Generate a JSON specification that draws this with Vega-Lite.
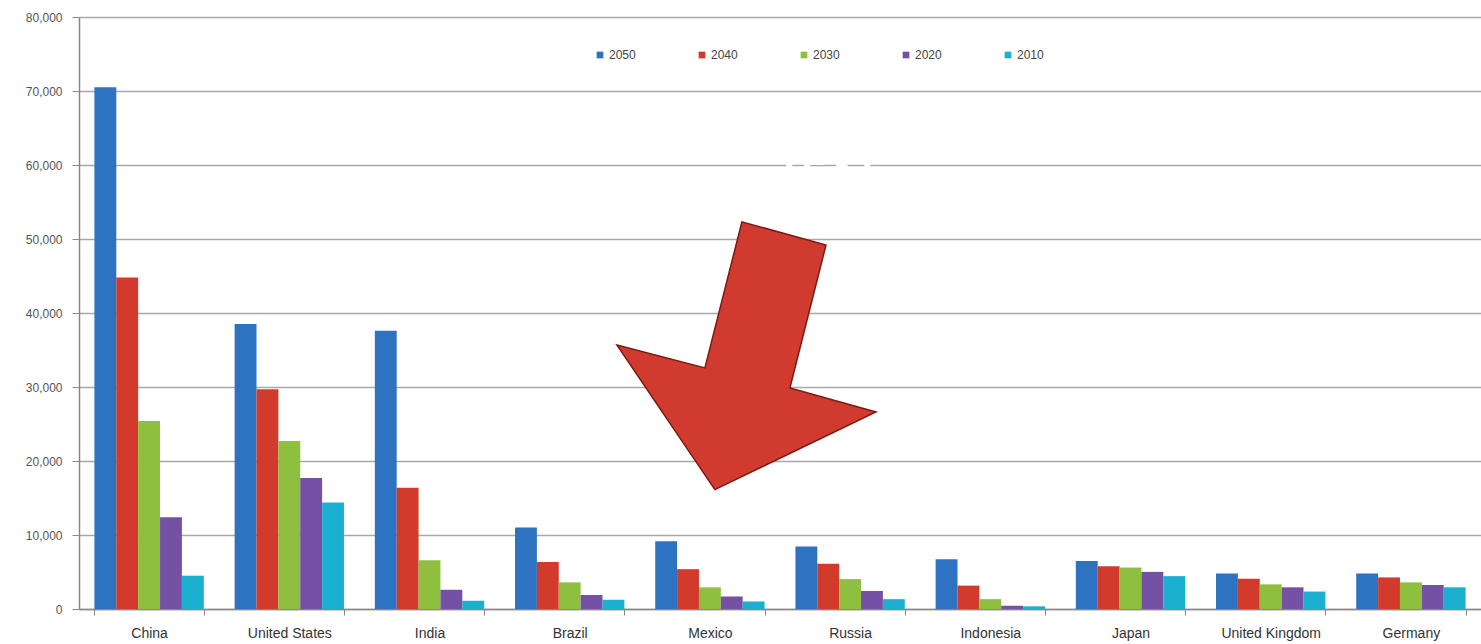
{
  "$schema": "https://vega.github.io/schema/vega-lite/v6.json",
  "width": 1402,
  "height": 592,
  "autosize": {"type": "none"},
  "padding": {"left": 79, "top": 17, "right": 0, "bottom": 35},
  "background": "white",
  "config": {
    "view": {"stroke": null},
    "font": "Liberation Sans"
  },
  "datasets": {
    "main": [
      {"country": "China", "year": "2050", "value": 70500},
      {"country": "China", "year": "2040", "value": 44800},
      {"country": "China", "year": "2030", "value": 25400},
      {"country": "China", "year": "2020", "value": 12400},
      {"country": "China", "year": "2010", "value": 4500},
      {"country": "United States", "year": "2050", "value": 38500},
      {"country": "United States", "year": "2040", "value": 29700},
      {"country": "United States", "year": "2030", "value": 22700},
      {"country": "United States", "year": "2020", "value": 17700},
      {"country": "United States", "year": "2010", "value": 14400},
      {"country": "India", "year": "2050", "value": 37600},
      {"country": "India", "year": "2040", "value": 16400},
      {"country": "India", "year": "2030", "value": 6600},
      {"country": "India", "year": "2020", "value": 2600},
      {"country": "India", "year": "2010", "value": 1100},
      {"country": "Brazil", "year": "2050", "value": 11000},
      {"country": "Brazil", "year": "2040", "value": 6350},
      {"country": "Brazil", "year": "2030", "value": 3600},
      {"country": "Brazil", "year": "2020", "value": 1900},
      {"country": "Brazil", "year": "2010", "value": 1250},
      {"country": "Mexico", "year": "2050", "value": 9150},
      {"country": "Mexico", "year": "2040", "value": 5380},
      {"country": "Mexico", "year": "2030", "value": 2930},
      {"country": "Mexico", "year": "2020", "value": 1690},
      {"country": "Mexico", "year": "2010", "value": 1020},
      {"country": "Russia", "year": "2050", "value": 8440},
      {"country": "Russia", "year": "2040", "value": 6130},
      {"country": "Russia", "year": "2030", "value": 4040},
      {"country": "Russia", "year": "2020", "value": 2440},
      {"country": "Russia", "year": "2010", "value": 1330},
      {"country": "Indonesia", "year": "2050", "value": 6710},
      {"country": "Indonesia", "year": "2040", "value": 3160},
      {"country": "Indonesia", "year": "2030", "value": 1330},
      {"country": "Indonesia", "year": "2020", "value": 440},
      {"country": "Indonesia", "year": "2010", "value": 360},
      {"country": "Japan", "year": "2050", "value": 6490},
      {"country": "Japan", "year": "2040", "value": 5780},
      {"country": "Japan", "year": "2030", "value": 5600},
      {"country": "Japan", "year": "2020", "value": 5020},
      {"country": "Japan", "year": "2010", "value": 4440},
      {"country": "United Kingdom", "year": "2050", "value": 4800},
      {"country": "United Kingdom", "year": "2040", "value": 4090},
      {"country": "United Kingdom", "year": "2030", "value": 3330},
      {"country": "United Kingdom", "year": "2020", "value": 2930},
      {"country": "United Kingdom", "year": "2010", "value": 2360},
      {"country": "Germany", "year": "2050", "value": 4800},
      {"country": "Germany", "year": "2040", "value": 4270},
      {"country": "Germany", "year": "2030", "value": 3600},
      {"country": "Germany", "year": "2020", "value": 3240},
      {"country": "Germany", "year": "2010", "value": 2930}
    ],
    "arrow": [{"country": "Mexico", "value": 34200}],
    "note": [{"country": "Russia", "value": 60000, "label": "TEXT"}]
  },
  "encoding": {
    "x": {
      "field": "country",
      "type": "nominal",
      "scale": {
        "domain": ["China", "United States", "India", "Brazil", "Mexico", "Russia", "Indonesia", "Japan", "United Kingdom", "Germany"],
        "paddingInner": 0.22,
        "paddingOuter": 0.11
      },
      "axis": {
        "title": null,
        "labelAngle": 0,
        "labelFontSize": 14,
        "labelColor": "#333333",
        "labelPadding": 11,
        "tickSize": 6,
        "tickColor": "#888888",
        "tickBand": "extent",
        "domainColor": "#888888",
        "domainWidth": 1.5,
        "grid": false
      }
    },
    "y": {
      "field": "value",
      "type": "quantitative",
      "scale": {"domain": [0, 80000], "nice": false},
      "axis": {
        "title": null,
        "values": [0, 10000, 20000, 30000, 40000, 50000, 60000, 70000, 80000],
        "format": ",.0f",
        "labelFontSize": 12,
        "labelColor": "#555555",
        "labelPadding": 10,
        "tickSize": 7,
        "tickColor": "#888888",
        "domainColor": "#888888",
        "domainWidth": 1.5,
        "gridColor": "#a8a8a8",
        "gridWidth": 1.5
      }
    }
  },
  "layer": [
    {
      "data": {"name": "main"},
      "mark": {"type": "bar"},
      "encoding": {
        "xOffset": {
          "field": "year",
          "type": "nominal",
          "scale": {"domain": ["2050", "2040", "2030", "2020", "2010"], "paddingInner": 0}
        },
        "color": {
          "field": "year",
          "type": "nominal",
          "scale": {
            "domain": ["2050", "2040", "2030", "2020", "2010"],
            "range": ["#2e72c2", "#d23b2c", "#8fbf3f", "#7451a5", "#1cb0d0"]
          },
          "legend": {
            "title": null,
            "orient": "none",
            "legendX": 515,
            "legendY": 32,
            "direction": "horizontal",
            "columns": 5,
            "columnPadding": 60,
            "symbolType": "square",
            "symbolSize": 45,
            "labelFontSize": 12,
            "labelColor": "#444444",
            "labelOffset": 3
          }
        }
      }
    },
    {
      "data": {"name": "note"},
      "mark": {"type": "text", "color": "white", "fontSize": 40, "fontWeight": "bold", "align": "center", "baseline": "middle"},
      "encoding": {
        "x": {"field": "country", "type": "nominal", "bandPosition": 0.3},
        "text": {"field": "label"}
      }
    },
    {
      "data": {"name": "arrow"},
      "mark": {
        "type": "point",
        "filled": true,
        "shape": "M0.037,0.99 L-0.689,-0.081 L-0.037,0.089 L0.237,-0.993 L0.86,-0.822 L0.593,0.237 L1.23,0.415 Z",
        "size": 72900,
        "color": "#d13b2f",
        "stroke": "#7a1a14",
        "strokeWidth": 1.5,
        "opacity": 1
      },
      "encoding": {}
    }
  ]
}
